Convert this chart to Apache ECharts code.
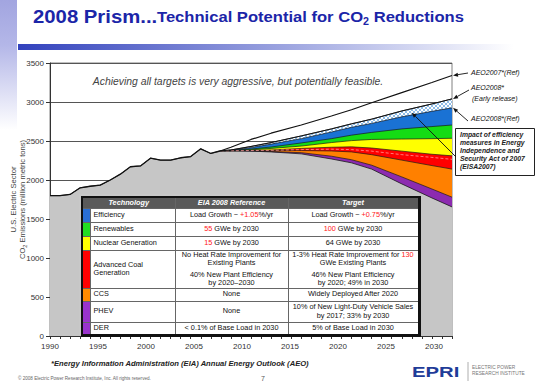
<!DOCTYPE html>
<html>
<head>
<meta charset="utf-8">
<script src="https://cdn.jsdelivr.net/npm/echarts@6/dist/echarts.min.js"></script>
<style>
html,body{margin:0;padding:0;background:#fff;}
#wrap{position:relative;width:540px;height:384px;overflow:hidden;font-family:"Liberation Sans",Arial,sans-serif;}
#chart{position:absolute;left:0;top:0;width:540px;height:384px;}
#tbl{position:absolute;left:81px;top:196px;width:337px;border-collapse:collapse;table-layout:fixed;font-size:7.3px;line-height:8.4px;color:#111;background:#fff;border:2px solid #111;border-right-width:3px;border-bottom-width:3px;box-shadow:-2px -2px 0 #c8c8c8;}
#tbl td,#tbl th{border:1px solid #666;padding:0 2px;text-align:center;vertical-align:middle;overflow:hidden;}
#tbl th{background:#5a5a5a;color:#fff;font-style:italic;font-weight:bold;}
#tbl td.tech{text-align:left;padding-left:3px;}
#tbl td.strip{padding:0;}
#tbl .r{color:#ff2020;}
#tbl .gap{display:block;height:3px;}
</style>
</head>
<body>
<div id="wrap">
  <div id="chart"></div>
  <table id="tbl"></table>
</div>
<script>
// ---------------- data ----------------
const histYears = [1990,1991,1992,1993,1994,1995,1996,1997,1998,1999,2000,2001,2002,2003,2004,2005,2006,2007];
const histCO2   = [1800,1800,1815,1900,1920,1935,2000,2075,2170,2180,2280,2255,2255,2285,2300,2400,2340,2375];

const projYears       = [2007,2008,2010,2012,2015,2018,2020,2022,2025,2028,2030];
const aeo2007Ref      = [2375,2420,2520,2600,2705,2820,2900,2990,3120,3250,3340];
const aeo2008Early    = [2375,2385,2430,2480,2565,2655,2720,2780,2885,2975,3040];
const aeo2008Ref      = [2375,2380,2415,2460,2530,2615,2675,2725,2810,2880,2925];
const afterEfficiency = [2375,2378,2397,2423,2475,2530,2575,2610,2655,2685,2705];
const afterRenewables = [2375,2377,2387,2405,2435,2480,2505,2520,2525,2530,2535];
const afterNuclear    = [2375,2375,2380,2385,2405,2420,2425,2410,2370,2330,2310];
const coalSplit       = [2375,2375,2378,2380,2390,2395,2390,2370,2325,2290,2265];
const afterCoal       = [2375,2375,2377,2378,2378,2372,2360,2325,2255,2185,2140];
const afterCCS        = [2375,2374,2372,2365,2350,2305,2260,2190,2040,1885,1780];
const afterPHEVDER    = [2375,2374,2370,2360,2335,2270,2220,2140,1950,1770,1655];

const xTickLabels = ['1990','1995','2000','2005','2010','2015','2020','2025','2030'];

const techNames  = ['Efficiency','Renewables','Nuclear Generation','Advanced Coal Generation','CCS','PHEV','DER'];
const techColors = ['#2a6fd6','#22dd22','#ffff00','#ff0000','#ff8a00','#9933cc','#9933cc'];
const eiaRef = [
  ['Load Growth ~ ', ['+1.05'], '%/yr'],
  [['55'], ' GWe by 2030'],
  [['15'], ' GWe by 2030'],
  ['No Heat Rate Improvement for\nExisting Plants', '|', '40% New Plant Efficiency\nby 2020\u20132030'],
  ['None'],
  ['None'],
  ['< 0.1% of Base Load in 2030']
];
const targets = [
  ['Load Growth ~ ', ['+0.75'], '%/yr'],
  [['100'], ' GWe by 2030'],
  ['64 GWe by 2030'],
  ['1-3% Heat Rate Improvement for ', ['130'], '\nGWe Existing Plants', '|', '46% New Plant Efficiency\nby 2020; 49% in 2030'],
  ['Widely Deployed After 2020'],
  ['10% of New Light-Duty Vehicle Sales\nby 2017; 33% by 2030'],
  ['5% of Base Load in 2030']
];
const tableHeaders = ['Technology','EIA 2008 Reference','Target'];

// ---------------- table ----------------
const rowHeights = [14,14,14,38,13,21,13];
function cellHtml(parts){
  return parts.map(p => {
    if (Array.isArray(p)) return '<span class="r">' + p[0] + '</span>';
    if (p === '|') return '<span class="gap"></span>';
    return p.replace(/&/g,'&amp;').replace(/</g,'&lt;').replace(/\n/g,'<br>');
  }).join('');
}
(function buildTable(){
  let h = '<colgroup><col style="width:8px"><col style="width:85px"><col style="width:113px"><col style="width:131px"></colgroup>';
  h += '<tr style="height:11px"><th colspan="2">' + tableHeaders[0] + '</th><th>' + tableHeaders[1] + '</th><th>' + tableHeaders[2] + '</th></tr>';
  techNames.forEach((t,i) => {
    h += '<tr style="height:' + rowHeights[i] + 'px"><td class="strip" style="background:' + techColors[i] + '"></td>' +
         '<td class="tech">' + t + '</td><td>' + cellHtml(eiaRef[i]) + '</td><td>' + cellHtml(targets[i]) + '</td></tr>';
  });
  document.getElementById('tbl').innerHTML = h;
})();

// ---------------- chart ----------------
const pair = (xs, ys) => xs.map((x,i) => [x, ys[i]]);
const grayPath = pair(histYears, histCO2).concat(pair(projYears.slice(1), afterPHEVDER.slice(1)));

// hatch pattern for EISA2007 impact
const pc = document.createElement('canvas');
pc.width = 4; pc.height = 4;
const pg = pc.getContext('2d');
pg.fillStyle = '#8fbde8'; pg.fillRect(0,0,4,4);
pg.fillStyle = '#ffffff';
for (let i=0;i<4;i++){ pg.fillRect(i,i,1,1); pg.fillRect(3-i,i,1,1); }

function band(name, ys, color){
  return {
    type:'line', name, data: pair(projYears, ys), symbol:'none', silent:true,
    lineStyle:{color:'#1a1a1a', width:0.7},
    areaStyle:{color, opacity:1}
  };
}

const chart = echarts.init(document.getElementById('chart'), null, {renderer:'svg'});
const TITLE_C = '#1b25a8';
const option = {
  animation:false,
  backgroundColor:'#ffffff',
  grid:{left:50, right:88, top:63, bottom:48, show:true, borderColor:'#808080', borderWidth:1, backgroundColor:'#ffffff', outerBoundsMode:'none', containLabel:false},
  xAxis:[
    {type:'value', min:1990, max:2030, interval:1,
     axisLine:{lineStyle:{color:'#333', width:1}},
     axisTick:{show:true, length:3, lineStyle:{color:'#333'}},
     axisLabel:{show:false}, splitLine:{show:false}},
    {type:'value', position:'bottom', min:0, max:41.875, interval:5,
     axisLine:{show:false}, axisTick:{show:false}, splitLine:{show:false},
     axisLabel:{fontFamily:'Liberation Sans', fontSize:8, color:'#333', margin:6,
       showMinLabel:true, showMaxLabel:false,
       formatter:v => (v % 5 === 0 && xTickLabels[v/5] !== undefined) ? xTickLabels[v/5] : ''}}
  ],
  yAxis:{
    type:'value', min:0, max:3500, interval:500,
    axisLine:{show:true, lineStyle:{color:'#333'}},
    axisTick:{show:true, length:4, lineStyle:{color:'#333'}},
    axisLabel:{fontFamily:'Liberation Sans', fontSize:8, color:'#333', margin:6, formatter:v => String(v)},
    splitLine:{show:true, lineStyle:{color:'#555', width:1}},
    name:'{t|U.S. Electric Sector}\n{t|CO}{s|2}{t| Emissions (million metric tons)}',
    nameLocation:'middle', nameGap:22, nameRotate:90, nameMoveOverlap:false,
    nameTextStyle:{
      rich:{
        t:{fontFamily:'Liberation Sans', fontSize:7.6, color:'#444', lineHeight:9, verticalAlign:'bottom', padding:[0,0,2,0]},
        s:{fontFamily:'Liberation Sans', fontSize:5.5, color:'#444', lineHeight:6, verticalAlign:'bottom'}
      }
    }
  },
  series:[
    band('AEO2008 Early release', aeo2008Early, {image:pc, repeat:'repeat'}),
    band('AEO2008 Ref', aeo2008Ref, '#1a72d4'),
    band('Renewables', afterEfficiency, '#14dc14'),
    band('Nuclear', afterRenewables, '#ffff00'),
    band('Advanced Coal', afterNuclear, '#ff0000'),
    band('CCS', afterCoal, '#ff8000'),
    band('PHEV + DER', afterCCS, '#8c2bb0'),
    {type:'line', name:'Emissions', data:grayPath, symbol:'none', silent:true,
     lineStyle:{color:'#1a1a1a', width:0.8}, areaStyle:{color:'#c6c6c6', opacity:1}},
    {type:'line', name:'Coal split', data:pair(projYears, coalSplit), symbol:'none', silent:true,
     lineStyle:{color:'#ff9a9a', width:0.8, type:[3,2]}},
    {type:'line', name:'Historical', data:pair(histYears, histCO2), symbol:'none', silent:true,
     lineStyle:{color:'#111', width:1.3}},
    {type:'line', name:'AEO2007 Ref', data:pair(projYears, aeo2007Ref), symbol:'none', silent:true,
     lineStyle:{color:'#111', width:1.2}},
    {type:'line', name:'AEO2008 Early line', data:pair(projYears, aeo2008Early), symbol:'none', silent:true,
     lineStyle:{color:'#111', width:1}}
  ]
};
chart.setOption(option);

// ---------------- annotations / decorations ----------------
const px = (x,y) => chart.convertToPixel({seriesIndex:0}, [x,y]);
function arrow(from, to){
  const dx = to[0]-from[0], dy = to[1]-from[1], L = Math.hypot(dx,dy);
  const ux = dx/L, uy = dy/L, hl = 5, hw = 2;
  const bx = to[0]-ux*hl, by = to[1]-uy*hl;
  return [
    {type:'line', shape:{x1:from[0], y1:from[1], x2:bx, y2:by}, style:{stroke:'#111', lineWidth:0.9}, z:100},
    {type:'polygon', shape:{points:[to, [bx-uy*hw, by+ux*hw], [bx+uy*hw, by-ux*hw]]}, style:{fill:'#111'}, z:100}
  ];
}
const last = projYears.length-1;
const p07 = px(projYears[last], aeo2007Ref[last]);
const pEr = px(projYears[last], aeo2008Early[last]);
const pRf = px(projYears[last], aeo2008Ref[last]);
const pEisa = px(2026, (aeo2008Early[8]+aeo2008Ref[8])/2 + 15);

const lbl = (x,y,t,extra) => Object.assign({type:'text', x, y, z:100,
  style:{text:t, fontFamily:'Liberation Sans', fontSize:7, fontStyle:'italic', fill:'#111', verticalAlign:'middle'}}, extra||{});

const graphics = [
  {type:'rect', shape:{x:0,y:0,width:17,height:130}, z:-10,
   style:{fill:new echarts.graphic.LinearGradient(0,0,0,1,[{offset:0,color:'#a2a5e0'},{offset:0.35,color:'#b4b7e8'},{offset:1,color:'#ffffff'}])}},
  {type:'rect', shape:{x:18,y:44,width:522,height:6}, z:-10,
   style:{fill:new echarts.graphic.LinearGradient(0,0,1,0,[{offset:0,color:'#3242bd'},{offset:0.5,color:'#9aa2df'},{offset:0.95,color:'#ffffff'},{offset:1,color:'#ffffff'}])}},
  // title
  {type:'text', x:33, y:26, z:100, scaleX:1.07, originX:0, originY:0,
   style:{text:'2008 Prism...', fontFamily:'Liberation Sans', fontSize:19, fontWeight:'bold', fill:TITLE_C, verticalAlign:'bottom'}},
  {type:'text', x:157, y:27, z:100, scaleX:1.07, originX:0, originY:0,
   style:{text:'{b|Technical Potential for CO}{s|2}{b| Reductions}', verticalAlign:'bottom',
     rich:{
       b:{fontFamily:'Liberation Sans', fontSize:15.5, fontWeight:'bold', fill:TITLE_C, lineHeight:15.5, verticalAlign:'bottom', padding:[0,0,2.5,0]},
       s:{fontFamily:'Liberation Sans', fontSize:10, fontWeight:'bold', fill:TITLE_C, lineHeight:10, verticalAlign:'bottom'}
     }}},
  {type:'text', x:238, y:81, z:100, style:{text:'Achieving all targets is very aggressive, but potentially feasible.', fontFamily:'Liberation Sans', fontSize:10.4, fontStyle:'italic', fill:'#444', align:'center', verticalAlign:'middle'}},
  lbl(471, 72, 'AEO2007*(Ref)'),
  lbl(471, 87.5, 'AEO2008*'),
  lbl(472, 98, '(Early release)'),
  lbl(471, 118, 'AEO2008*(Ref)'),
  {type:'rect', shape:{x:455.5, y:128.5, width:79, height:47}, z:100, style:{fill:'#fff', stroke:'#222', lineWidth:1}},
  {type:'text', x:460, y:131, z:101, style:{text:'Impact of efficiency\nmeasures in Energy\nIndependence and\nSecurity Act of 2007\n(EISA2007)', fontFamily:'Liberation Sans', fontSize:6.8, fontWeight:'bold', fontStyle:'italic', fill:'#222', lineHeight:7.8}},
  {type:'text', x:51, y:363, z:100, style:{text:'*Energy Information Administration (EIA) Annual Energy Outlook (AEO)', fontFamily:'Liberation Sans', fontSize:7.6, fontWeight:'bold', fontStyle:'italic', fill:'#222', verticalAlign:'middle'}},
  {type:'text', x:18, y:378.5, z:100, style:{text:'\u00a9 2008 Electric Power Research Institute, Inc. All rights reserved.', fontFamily:'Liberation Sans', fontSize:4.6, fill:'#666', verticalAlign:'middle'}},
  {type:'text', x:263, y:378.5, z:100, style:{text:'7', fontFamily:'Liberation Sans', fontSize:7, fill:'#555', align:'center', verticalAlign:'middle'}},
  {type:'text', x:412, y:372, z:100, scaleX:1.4, originX:0, originY:0, style:{text:'EPRI', fontFamily:'Liberation Sans', fontSize:14.5, fontWeight:'bold', fill:'#1f3c98', verticalAlign:'middle'}},
  {type:'line', shape:{x1:468, y1:362, x2:468, y2:381}, z:100, style:{stroke:'#999', lineWidth:0.8}},
  {type:'text', x:472, y:367, z:100, style:{text:'ELECTRIC POWER', fontFamily:'Liberation Sans', fontSize:4.8, fill:'#777', verticalAlign:'middle'}},
  {type:'text', x:472, y:373, z:100, style:{text:'RESEARCH INSTITUTE', fontFamily:'Liberation Sans', fontSize:4.8, fill:'#777', verticalAlign:'middle'}}
]
.concat(arrow([468,73], [p07[0]+1, p07[1]]))
.concat(arrow([469,90], [pEr[0]+1, pEr[1]]))
.concat(arrow([468,121], [pRf[0]+1, pRf[1]]))
.concat(arrow([456,157], pEisa));

chart.setOption({graphic:graphics});
</script>
</body>
</html>
